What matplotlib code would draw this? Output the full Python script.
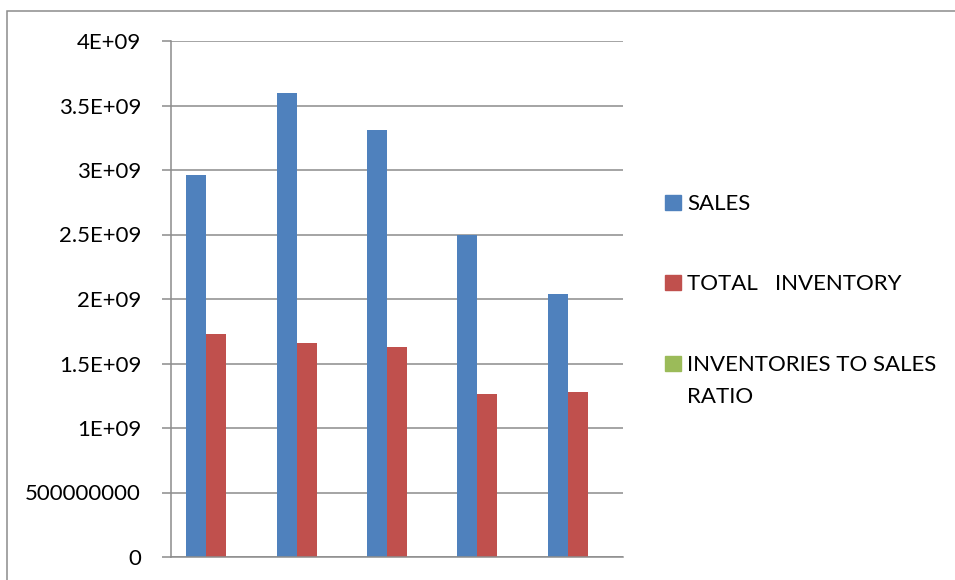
import numpy as np
import matplotlib.pyplot as plt
from matplotlib.patches import Rectangle

plt.rcParams['font.family'] = ['Lato', 'DejaVu Sans']

# values
sales = [2.96e9, 3.595e9, 3.31e9, 2.50e9, 2.04e9]
inventory = [1.73e9, 1.657e9, 1.626e9, 1.264e9, 1.282e9]
ratio = [0.58, 0.46, 0.49, 0.50, 0.63]
series_names = ['SALES', 'TOTAL   INVENTORY', 'INVENTORIES TO SALES\nRATIO']
colors = ['#4F81BD', '#C0504D', '#9BBB59']
yticks = [0, 5e8, 1e9, 1.5e9, 2e9, 2.5e9, 3e9, 3.5e9, 4e9]
ytick_labels = ['0', '500000000', '1E+09', '1.5E+09', '2E+09', '2.5E+09', '3E+09', '3.5E+09', '4E+09']

fig = plt.figure(figsize=(9.55, 5.8), dpi=100)
ax = fig.add_axes([171/955, 23/580, 452/955, 516/580])

x = np.arange(len(sales))
w = 0.221
for k, vals in enumerate([sales, inventory, ratio]):
    ax.bar(x + (k - 1) * w, vals, width=w, color=colors[k], zorder=3)

ax.set_xlim(-0.5, 4.5)
ax.set_ylim(0, 4e9)
ax.set_yticks(yticks)
ax.set_yticklabels(ytick_labels, fontsize=16, color='#000000')
ax.set_xticks([])
ax.grid(axis='y', color='#8c8c8c', lw=1.1, zorder=0)
for s in ['top', 'right', 'bottom']:
    ax.spines[s].set_visible(False)
ax.spines['left'].set_color('#8c8c8c')
ax.spines['left'].set_linewidth(1.1)
ax.tick_params(axis='y', length=6.5, width=1.1, color='#8c8c8c', pad=15)
ax.axhline(0, color='#8c8c8c', lw=1.1, zorder=4, clip_on=False)

# legend, drawn by hand to keep Excel-like spacing
leg_base = [210, 290, 371]
for k, name in enumerate(series_names):
    yb = 1 - leg_base[k] / 580
    fig.patches.append(Rectangle((665/955, yb), 16/955, 15/580,
                                 transform=fig.transFigure, color=colors[k]))
    for i, line in enumerate(name.split('\n')):
        fig.text(687/955, yb - i * 31.7/580, line, fontsize=16,
                 va='baseline', ha='left')

# outer chart frame
fig.patches.append(Rectangle((7/955, -0.1), 1.2, (580 - 11)/580 + 0.1,
                             transform=fig.transFigure, fill=False,
                             edgecolor='#8c8c8c', lw=1.1))

fig.savefig('out.png', dpi=100)
